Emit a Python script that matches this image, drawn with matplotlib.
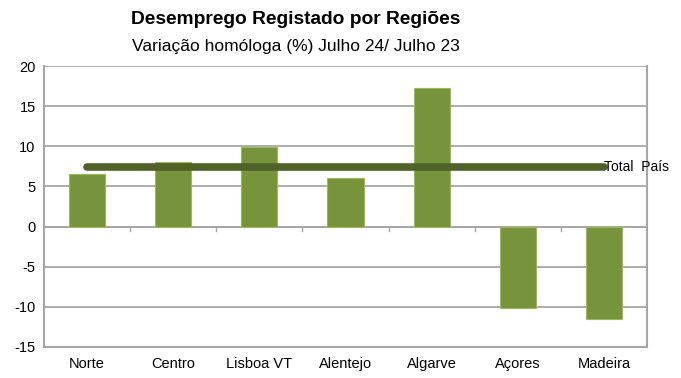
import matplotlib
matplotlib.use("Agg")
import matplotlib.pyplot as plt
import numpy as np

categories = ["Norte", "Centro", "Lisboa VT", "Alentejo", "Algarve", "Açores", "Madeira"]
values = [6.6, 8.0, 9.9, 6.0, 17.2, -10.1, -11.5]
total_pais = 7.4
yticks = [-15, -10, -5, 0, 5, 10, 15, 20]

fig = plt.figure(figsize=(6.81, 3.78), dpi=100)
ax = fig.add_axes([44/681, 1-347/378, (647-44)/681, (347-66)/378])

x = np.arange(len(categories))
ax.bar(x, values, width=0.42, color="#77933c", edgecolor="#9bbb59", linewidth=0.8, zorder=3)
ax.plot([x[0], x[-1]], [total_pais]*2, color="#4f6228", linewidth=5.5, solid_capstyle="round", zorder=4)
ax.text(x[-1], total_pais, "Total  País", fontsize=10, family="Liberation Sans", va="center", ha="left", zorder=5)

ax.set_ylim(-15, 20)
ax.set_xlim(-0.5, len(categories)-0.5)
ax.set_yticks(yticks)
ax.set_yticklabels([str(v) for v in yticks], fontsize=10.5, family="Liberation Sans")
ax.yaxis.grid(True, color="#a6a6a6", linewidth=1.3, zorder=0)
ax.set_axisbelow(True)
ax.set_xticks([])
for i in range(1, len(categories)):
    ax.plot([i-0.5, i-0.5], [0, -0.6], color="#a6a6a6", linewidth=1, zorder=2, clip_on=False)
ax.axhline(0, color="#a6a6a6", linewidth=1.3, zorder=2)
for i, c in enumerate(categories):
    ax.text(i, -16.2, c, ha="center", va="top", fontsize=10.5, family="Liberation Sans")
for s in ["left", "right", "top", "bottom"]:
    ax.spines[s].set_color("#a6a6a6")
    ax.spines[s].set_linewidth(1.5)
ax.spines["top"].set_visible(False)
ax.tick_params(axis="y", length=0, pad=6)

fig.text(296/681, 1-20/378, "Desemprego Registado por Regiões", ha="center", va="center",
         fontsize=13.8, fontweight="bold", family="Liberation Sans")
fig.text(296/681, 1-46/378, "Variação homóloga (%) Julho 24/ Julho 23", ha="center", va="center",
         fontsize=12.5, family="Liberation Sans")

fig.savefig("out.png", dpi=100)
